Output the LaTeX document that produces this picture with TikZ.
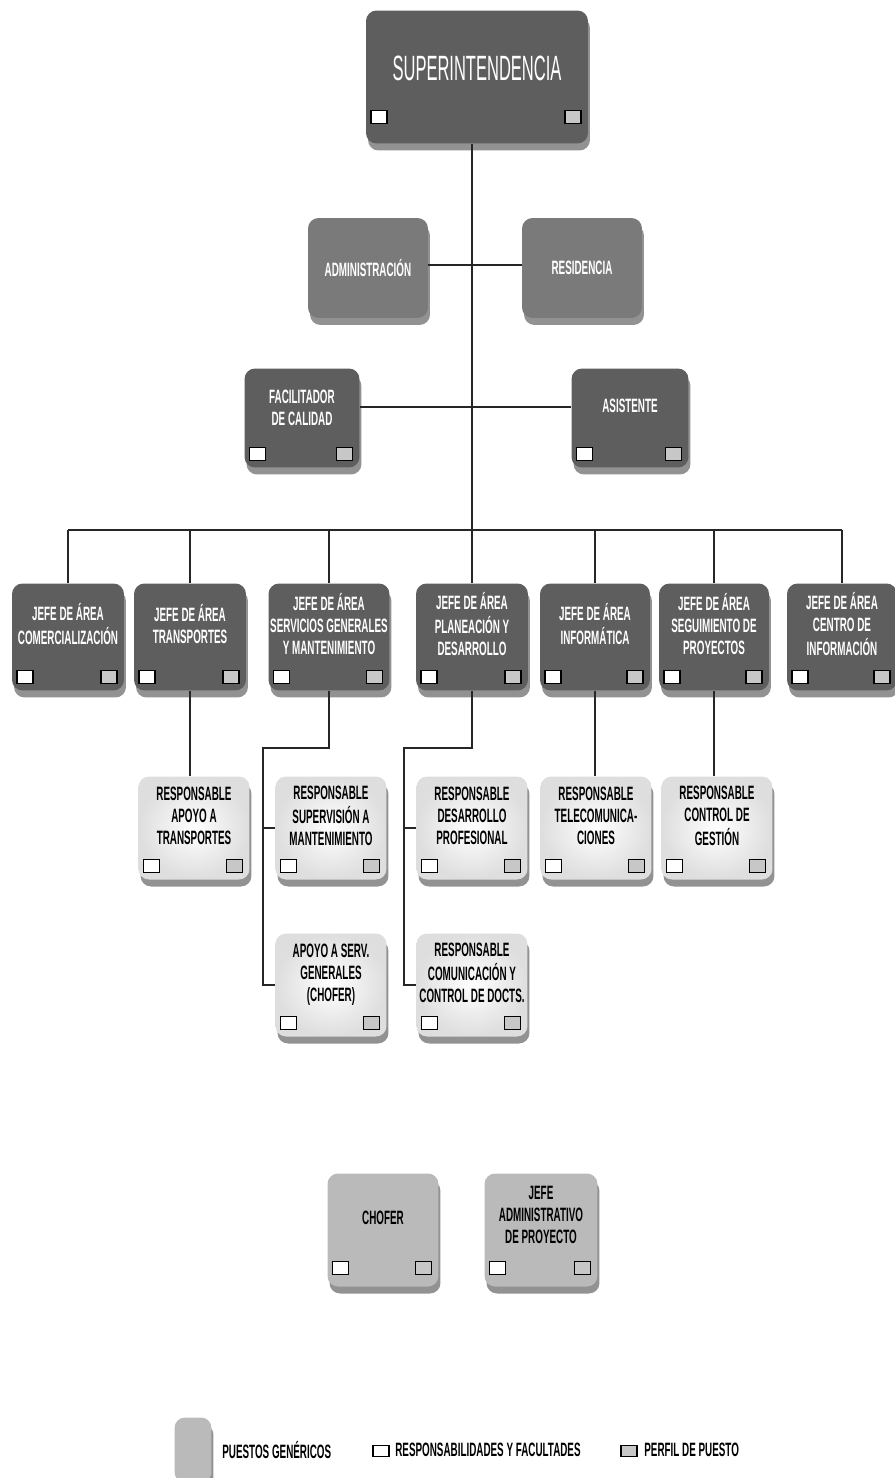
\documentclass[tikz,border=0pt]{standalone}
\usepackage{fontspec}
\setmainfont{Liberation Sans}[FakeStretch=0.51]
\newfontfamily\supfont{Liberation Sans}[FakeStretch=0.47]
\usetikzlibrary{shadows}

% texto de cargo, un poco arriba del centro
\newcommand{\cargo}[2][0.4cm]{\makebox[0pt]{\begin{tabular}{@{}c@{}}#2\\[#1]\end{tabular}}}

\tikzset{
  enlace/.style={draw=black!85, line width=1pt},
  caja/.style={rounded corners=6pt, inner sep=0pt, font=\fontsize{11}{12.5}\selectfont\bfseries,
    drop shadow={shadow xshift=0.04cm, shadow yshift=-0.14cm, opacity=0.5, fill=black!85}},
  jefatura/.style={caja, fill=black!63, text=white, minimum width=2.24cm, minimum height=2.14cm},
  staff/.style={caja, fill=black!52, text=white, minimum width=2.4cm, minimum height=2cm},
  responsable/.style={caja, inner color=white, outer color=black!13, text=black,
    minimum width=2.22cm, minimum height=2.06cm},
  generico/.style={caja, fill=black!27, text=black, minimum width=2.22cm, minimum height=2.26cm},
  cuadro/.style={sharp corners, draw=black, line width=0.8pt, fill=white, inner sep=0pt},
  cuadros/.style={path picture={
    \draw[cuadro] ([shift={(0.1cm,#1)}]path picture bounding box.south west) rectangle ++(0.32cm,0.26cm);
    \draw[cuadro, fill=black!22] ([shift={(-0.46cm,#1)}]path picture bounding box.south east) rectangle ++(0.32cm,0.26cm);}},
  cuadros/.default=0.14cm,
  leyenda/.style={font=\fontsize{11}{12}\selectfont\bfseries, inner sep=0pt, anchor=west}
}

\begin{document}
\begin{tikzpicture}[x=0.02cm, y=-0.02cm]
\useasboundingbox (0,0) rectangle (894,1478);

%---------------- Direccion ----------------
\node[jefatura, cuadros=0.4cm, minimum width=4.44cm, minimum height=2.66cm,
  font=\supfont\fontsize{20}{24}\selectfont] (super) at (477,77) {\cargo[0.2cm]{SUPERINTENDENCIA}};

\node[staff] (admin) at (368,268) {ADMINISTRACIÓN};
\node[staff] (resid) at (582,268) {RESIDENCIA};

\node[jefatura, cuadros, minimum width=2.3cm, minimum height=1.98cm] (facil) at (302,418) {\cargo[0.3cm]{FACILITADOR\\DE CALIDAD}};
\node[jefatura, cuadros, minimum width=2.34cm, minimum height=1.98cm] (asist) at (630,418) {\cargo{ASISTENTE}};

% Tronco y bus
\coordinate (bus) at (472,530);
\draw[enlace] (super.south -| bus) -- (bus);
\draw[enlace] ([yshift=0.06cm]admin.east) -- ([yshift=0.06cm]resid.west);
\draw[enlace] ([yshift=0.22cm]facil.east) -- ([yshift=0.22cm]asist.west);

%---------------- Jefes de area ----------------
\node[jefatura, cuadros] (j1) at (68,637) {\cargo{JEFE DE ÁREA\\COMERCIALIZACIÓN}};
\node[jefatura, cuadros] (j2) at (190,637) {\cargo{JEFE DE ÁREA\\TRANSPORTES}};
\node[jefatura, cuadros, minimum width=2.42cm] (j3) at (329,637) {\cargo{JEFE DE ÁREA\\SERVICIOS GENERALES\\Y MANTENIMIENTO}};
\node[jefatura, cuadros] (j4) at (472,637) {\cargo{JEFE DE ÁREA\\PLANEACIÓN Y\\DESARROLLO}};
\node[jefatura, cuadros, minimum width=2.2cm] (j5) at (595,637) {\cargo{JEFE DE ÁREA\\INFORMÁTICA}};
\node[jefatura, cuadros, minimum width=2.2cm] (j6) at (714,637) {\cargo{JEFE DE ÁREA\\SEGUIMIENTO DE\\PROYECTOS}};
\node[jefatura, cuadros, minimum width=2.2cm] (j7) at (842,637) {\cargo{JEFE DE ÁREA\\CENTRO DE\\INFORMACIÓN}};

\draw[enlace] (j1.north |- bus) -- (j7.north |- bus);
\foreach \j in {j1,j2,j3,j4,j5,j6,j7}
  \draw[enlace] (\j.north) -- (\j.north |- bus);

%---------------- Responsables ----------------
\node[responsable, cuadros] (r1) at (194,828) {\cargo{RESPONSABLE\\APOYO A\\TRANSPORTES}};
\node[responsable, cuadros] (r2) at (331,828) {\cargo{RESPONSABLE\\SUPERVISIÓN A\\MANTENIMIENTO}};
\node[responsable, cuadros] (r3) at (472,828) {\cargo{RESPONSABLE\\DESARROLLO\\PROFESIONAL}};
\node[responsable, cuadros] (r4) at (596,828) {\cargo{RESPONSABLE\\TELECOMUNICA-\\CIONES}};
\node[responsable, cuadros] (r5) at (717,828) {\cargo{RESPONSABLE\\CONTROL DE\\GESTIÓN}};
\node[responsable, cuadros] (r6) at (331,985) {\cargo{APOYO A SERV.\\GENERALES\\(CHOFER)}};
\node[responsable, cuadros] (r7) at (472,985) {\cargo{RESPONSABLE\\COMUNICACIÓN Y\\CONTROL DE DOCTS.}};

% Codos
\coordinate (c3) at (263,748);
\coordinate (c4) at (404,748);
\draw[enlace] (j2.south) -- (j2.south |- r1.north);
\draw[enlace] (j3.south) |- (c3) |- (r6.west);
\draw[enlace] (c3 |- r2.west) -- (r2.west);
\draw[enlace] (j4.south) |- (c4) |- (r7.west);
\draw[enlace] (c4 |- r3.west) -- (r3.west);
\draw[enlace] (j5.south) -- (j5.south |- r4.north);
\draw[enlace] (j6.south) -- (j6.south |- r5.north);

%---------------- Puestos genericos ----------------
\node[generico, cuadros=0.24cm] (g1) at (383,1230) {\cargo{CHOFER}};
\node[generico, cuadros=0.24cm, minimum width=2.26cm] (g2) at (541,1230) {\cargo[0.5cm]{JEFE\\ADMINISTRATIVO\\DE PROYECTO}};

%---------------- Leyenda ----------------
\node[generico, minimum width=0.74cm, minimum height=1.3cm] (leyg) at (193,1450) {};
\node[leyenda] (leygt) at (222,1450) {PUESTOS GENÉRICOS};
\node[cuadro, minimum width=0.32cm, minimum height=0.22cm] (leyr) at (381,1451) {};
\node[leyenda] (leyrt) at (395,1450) {RESPONSABILIDADES Y FACULTADES};
\node[cuadro, fill=black!22, minimum width=0.32cm, minimum height=0.22cm] (leyp) at (629,1451) {};
\node[leyenda] (leypt) at (644,1450) {PERFIL DE PUESTO};

\end{tikzpicture}
\end{document}
